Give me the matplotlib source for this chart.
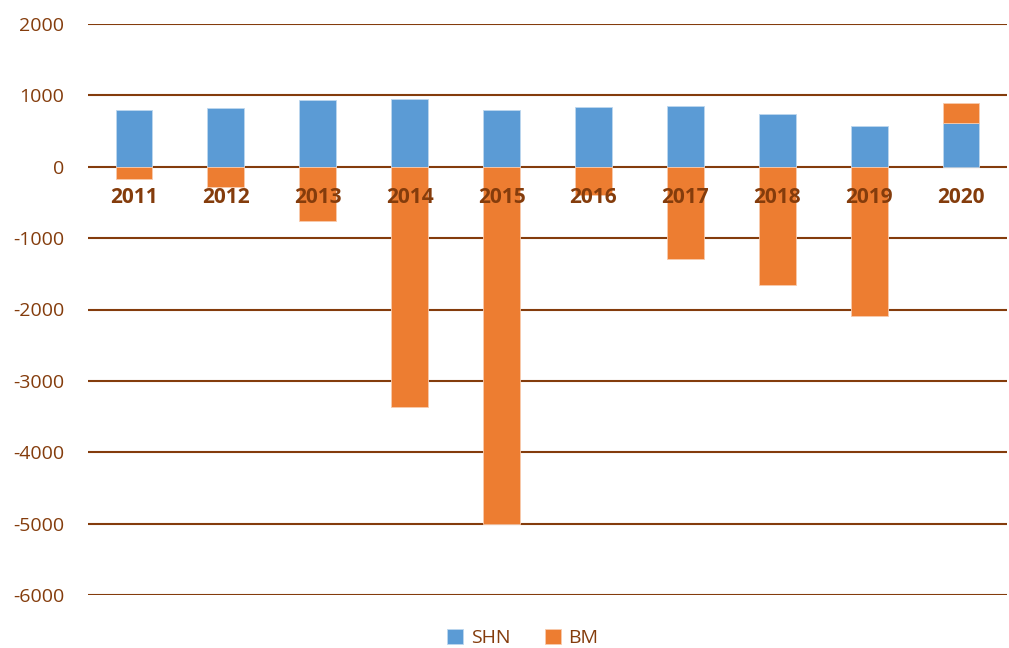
import numpy as np
import matplotlib.pyplot as plt

# Datos
anios = ["2011", "2012", "2013", "2014", "2015", "2016", "2017", "2018", "2019", "2020"]
shn = [800, 825, 935, 950, 800, 835, 845, 740, 575, 610]
bm = [-170, -280, -760, -3360, -5000, -400, -1290, -1650, -2090, 285]

marron = "#843C0C"
azul = "#5B9BD5"
naranja = "#ED7D31"

plt.rcParams["font.family"] = ["Open Sans", "DejaVu Sans"]
plt.rcParams["axes.unicode_minus"] = False

fig = plt.figure(figsize=(10.09, 6.48), dpi=100)
ax = fig.add_axes([88 / 1009, 1 - 595 / 648, (1007 - 88) / 1009, (595 - 24) / 648])

x = np.arange(len(anios))
shn_arr = np.array(shn)
bm_arr = np.array(bm)
# BM positivo se apila encima de SHN
base_bm = np.where(bm_arr > 0, shn_arr, 0)

ax.bar(x, shn_arr, width=0.4, color=azul, edgecolor="#BDD7EE", linewidth=0.6, label="SHN", zorder=3)
ax.bar(x, bm_arr, width=0.4, bottom=base_bm, color=naranja, edgecolor="#F8CBAD", linewidth=0.6,
       label="BM", zorder=3)

ax.set_xlim(-0.5, len(anios) - 0.5)
ax.set_ylim(-6000, 2000)
ax.set_yticks(range(-6000, 2001, 1000))
ax.set_xticks([])
ax.grid(axis="y", color=marron, linewidth=1.5, zorder=1)
ax.set_axisbelow(True)
for s in ax.spines.values():
    s.set_visible(False)
ax.tick_params(axis="y", length=0, pad=17, labelsize=14, labelcolor=marron)

# Etiquetas de categoria sobre el eje cero
for i, a in enumerate(anios):
    ax.annotate(a, (x[i], 0), xytext=(0, -31), textcoords="offset pixels",
                ha="center", va="center", fontsize=15, fontweight="bold",
                color=marron, zorder=5)

fig.legend(loc="center", bbox_to_anchor=(523 / 1009, 1 - 638 / 648), ncol=2, frameon=False,
           fontsize=14, labelcolor=marron, handlelength=0.8, handleheight=0.8,
           columnspacing=1.8, handletextpad=0.4)

fig.savefig("out.png", dpi=100)
